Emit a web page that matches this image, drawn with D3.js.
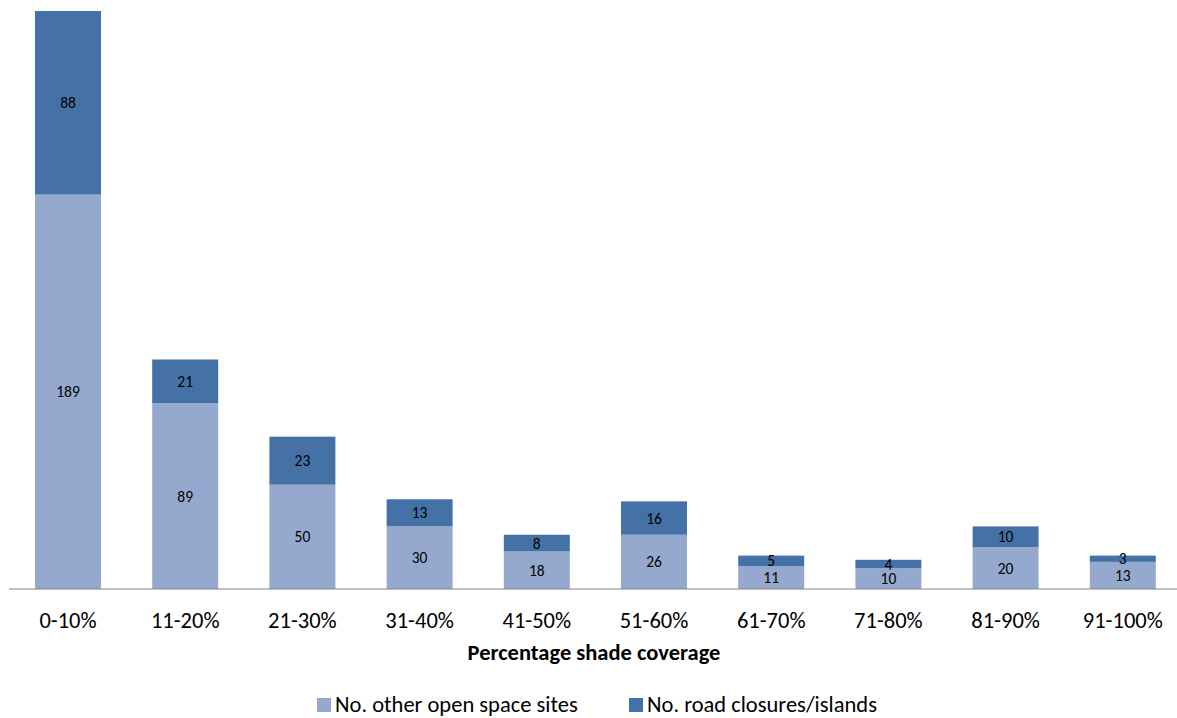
<!DOCTYPE html>
<html>
<head>
<meta charset="utf-8">
<script src="https://cdn.jsdelivr.net/npm/d3@7"></script>
<style>
  html, body { margin: 0; padding: 0; background: #fff; }
  svg { display: block; font-family: Carlito, Calibri, Lato, "Open Sans", sans-serif; }
</style>
</head>
<body>
<svg id="chart" width="1177" height="718"></svg>
<script>
// Shade coverage bands
const categories = ["0-10%", "11-20%", "21-30%", "31-40%", "41-50%", "51-60%", "61-70%", "71-80%", "81-90%", "91-100%"];
// Site counts per band
const otherOpenSpace = [189, 89, 50, 30, 18, 26, 11, 10, 20, 13];
const roadClosures = [88, 21, 23, 13, 8, 16, 5, 4, 10, 3];
const seriesNames = ["No. other open space sites", "No. road closures/islands"];
const seriesColors = ["#95a9cf", "#4572a6"];

const svg = d3.select("#chart");
const baseY = 589, topY = 11;

const x = d3.scaleBand()
  .domain(categories)
  .range([9.4, 1181.4])
  .paddingInner(0.437)
  .paddingOuter(0.2185);

const y = d3.scaleLinear().domain([0, 277]).range([baseY, topY]);

const rows = categories.map((c, i) => ({ cat: c, other: otherOpenSpace[i], road: roadClosures[i] }));
const stack = d3.stack().keys(["other", "road"])(rows);

const g = svg.append("g");
stack.forEach((layer, li) => {
  const lg = g.append("g");
  lg.selectAll("rect").data(layer).join("rect")
    .attr("x", d => x(d.data.cat))
    .attr("width", x.bandwidth())
    .attr("y", d => y(d[1]))
    .attr("height", d => y(d[0]) - y(d[1]))
    .attr("fill", seriesColors[li]);
  lg.selectAll("text").data(layer).join("text")
    .attr("x", d => x(d.data.cat) + x.bandwidth() / 2)
    .attr("y", d => (y(d[0]) + y(d[1])) / 2)
    .attr("dy", "0.36em")
    .attr("text-anchor", "middle")
    .attr("font-size", 15.5)
    .attr("fill", "#000")
    .text(d => d[1] - d[0]);
});

// Category axis
const axis = svg.append("g")
  .attr("transform", `translate(0,${baseY})`)
  .call(d3.axisBottom(x).tickSize(0).tickPadding(23));
axis.select(".domain").attr("stroke", "#868686").attr("stroke-width", 1.2).attr("d", "M9,0H1177");
axis.selectAll("text").attr("font-size", 22.5).attr("fill", "#000").attr("font-family", "Carlito, Calibri, Lato, sans-serif");

svg.append("text")
  .attr("x", 594).attr("y", 660)
  .attr("text-anchor", "middle")
  .attr("font-size", 22.5).attr("font-weight", "bold")
  .text("Percentage shade coverage");

// Legend
const legendItems = [{ x: 317, i: 0 }, { x: 629, i: 1 }];
legendItems.forEach(it => {
  svg.append("rect").attr("x", it.x).attr("y", 698).attr("width", 14).attr("height", 14).attr("fill", seriesColors[it.i]);
  svg.append("text").attr("x", it.x + 18).attr("y", 712).attr("font-size", 22.5).text(seriesNames[it.i]);
});
</script>
</body>
</html>
